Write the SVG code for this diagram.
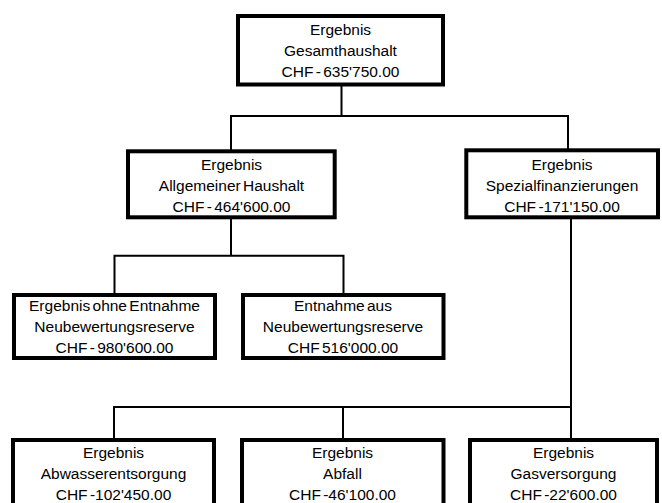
<svg xmlns="http://www.w3.org/2000/svg" width="662" height="503" viewBox="0 0 662 503">
<style>
.box{fill:#fff;stroke:#000;stroke-width:4}
.t{font-family:"Liberation Sans",Arial,sans-serif;font-size:15.5px;fill:#000;text-anchor:middle;word-spacing:-2px}
.c{fill:none;stroke:#000;stroke-width:2}
</style>
<rect width="662" height="503" fill="#fff"/>
<g id="connectors">
<path class="c" d="M341.5 86V116M230 116H569M231 116V150M568 116V149"/>
<path class="c" d="M231 219V255.7M113.5 255.7H344.5M114.5 255.7V295M343.5 255.7V295"/>
<path class="c" d="M571 219V407M113 407H572M114 407V439M343 407V439M571 407V439"/>
</g>
<g id="n1"><rect class="box" x="238" y="16" width="205" height="68.5"/>
<text class="t" x="340.5" y="35">Ergebnis</text><text class="t" x="340.5" y="56">Gesamthaushalt</text><text class="t" x="340.5" y="77">CHF - 635'750.00</text></g>
<g id="n2"><rect class="box" x="128" y="151.3" width="206.7" height="66"/>
<text class="t" x="231.5" y="170">Ergebnis</text><text class="t" x="231.5" y="191">Allgemeiner Haushalt</text><text class="t" x="231.5" y="212">CHF - 464'600.00</text></g>
<g id="n3"><rect class="box" x="466.3" y="150.3" width="191.7" height="67"/>
<text class="t" x="562" y="170">Ergebnis</text><text class="t" x="562" y="191">Spezialfinanzierungen</text><text class="t" x="562" y="212">CHF -171'150.00</text></g>
<g id="n4"><rect class="box" x="14" y="295" width="201" height="63"/>
<text class="t" x="114.5" y="311">Ergebnis ohne Entnahme</text><text class="t" x="114.5" y="332">Neubewertungsreserve</text><text class="t" x="114.5" y="353">CHF - 980'600.00</text></g>
<g id="n5"><rect class="box" x="243" y="295" width="200.5" height="63"/>
<text class="t" x="343" y="311">Entnahme aus</text><text class="t" x="343" y="332">Neubewertungsreserve</text><text class="t" x="343" y="353">CHF 516'000.00</text></g>
<g id="n6"><rect class="box" x="13" y="440" width="201" height="70"/>
<text class="t" x="113.5" y="458">Ergebnis</text><text class="t" x="113.5" y="479">Abwasserentsorgung</text><text class="t" x="113.5" y="500">CHF -102'450.00</text></g>
<g id="n7"><rect class="box" x="242" y="440" width="201.5" height="70"/>
<text class="t" x="342.5" y="458">Ergebnis</text><text class="t" x="342.5" y="479">Abfall</text><text class="t" x="342.5" y="500">CHF -46'100.00</text></g>
<g id="n8"><rect class="box" x="470" y="440" width="187" height="70"/>
<text class="t" x="563.5" y="458">Ergebnis</text><text class="t" x="563.5" y="479">Gasversorgung</text><text class="t" x="563.5" y="500">CHF -22'600.00</text></g>
</svg>
